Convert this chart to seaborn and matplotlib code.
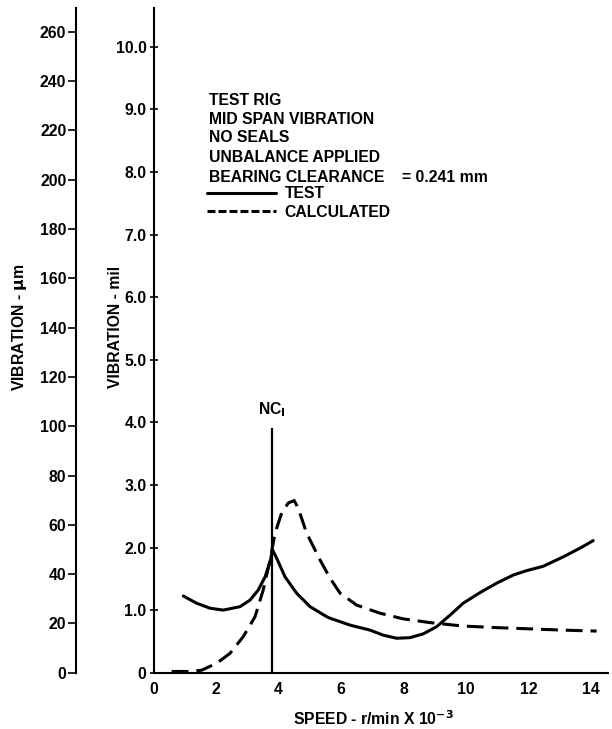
import matplotlib
matplotlib.use("Agg")
import matplotlib.pyplot as plt
from matplotlib.lines import Line2D
import seaborn as sns

# Measured response: test rig, mid span, no seals, unbalance applied
speed_test = [0.955, 1.38, 1.81, 2.23, 2.77, 3.09, 3.35, 3.57, 3.73, 3.81, 3.94,
              4.21, 4.58, 5.01, 5.54, 5.65, 6.29, 6.93, 7.35, 7.78, 8.21, 8.63,
              9.06, 9.49, 9.91, 10.45, 10.98, 11.51, 11.94, 12.47, 13.11, 13.65, 14.07]
vib_test = [1.225, 1.11, 1.03, 1.00, 1.055, 1.16, 1.32, 1.53, 1.77, 1.96, 1.83,
            1.53, 1.27, 1.055, 0.895, 0.87, 0.76, 0.68, 0.60, 0.55, 0.56, 0.62,
            0.735, 0.92, 1.11, 1.28, 1.43, 1.56, 1.63, 1.70, 1.85, 1.99, 2.11]

# Calculated response
speed_calc = [0.58, 1.19, 1.54, 2.02, 2.45, 2.87, 3.25, 3.51, 3.73, 3.89, 4.10,
              4.31, 4.50, 4.63, 4.90, 5.33, 5.65, 5.97, 6.50, 7.25, 7.99, 8.85,
              9.91, 10.98, 12.05, 13.11, 14.18]
vib_calc = [0.02, 0.02, 0.04, 0.15, 0.31, 0.575, 0.895, 1.32, 1.80, 2.23, 2.55,
            2.71, 2.75, 2.63, 2.23, 1.80, 1.51, 1.27, 1.08, 0.95, 0.86, 0.80,
            0.745, 0.72, 0.70, 0.68, 0.665]

# First critical speed marker
nc1_speed = 3.78
nc1_top = 3.91

mil_ticks = [0, 1, 2, 3, 4, 5, 6, 7, 8, 9, 10]
mil_labels = ["0", "1.0", "2.0", "3.0", "4.0", "5.0", "6.0", "7.0", "8.0", "9.0", "10.0"]
um_ticks = list(range(0, 261, 20))
speed_ticks = list(range(0, 15, 2))

notes = ["TEST RIG", "MID SPAN VIBRATION", "NO SEALS", "UNBALANCE APPLIED",
         "BEARING CLEARANCE"]
clearance_text = "= 0.241 mm"
MIL_TO_UM = 25.4

sns.set_style("white")
plt.rcParams["font.family"] = ["Liberation Sans", "DejaVu Sans"]
plt.rcParams["font.weight"] = "bold"
plt.rcParams["mathtext.default"] = "bf"
for key in ["text.color", "axes.labelcolor", "xtick.color", "ytick.color",
            "axes.edgecolor"]:
    plt.rcParams[key] = "black"

W, H = 612, 729
fig = plt.figure(figsize=(W / 100, H / 100), dpi=100)


def fx(px):
    return px / W


def fy(py):
    return 1 - py / H


x_left, x_right = 153.5, 608
y_bottom, y_top = 672.7, 8
ax = fig.add_axes([fx(x_left), fy(y_bottom), fx(x_right - x_left), (y_bottom - y_top) / H])

FS = 11.3
LW = 2.2

sns.lineplot(x=speed_test, y=vib_test, ax=ax, color="black", lw=LW, sort=False)
sns.lineplot(x=speed_calc, y=vib_calc, ax=ax, color="black", lw=LW, sort=False)
ax.lines[-1].set_dashes((5.5, 2.6))
ax.lines[-1].set_dash_capstyle("butt")
for ln in ax.lines:
    ln.set_solid_joinstyle("round")

ax.vlines(nc1_speed, 0, nc1_top, color="black", lw=1.6)
ax.text(nc1_speed, nc1_top + 0.14, "NC$_{\\mathbf{I}}$", ha="center", va="bottom",
        fontsize=FS, fontweight="bold")

ax.set_xlim(0, (x_right - x_left) / 31.25)
ax.set_ylim(0, (y_bottom - y_top) / 62.6)
ax.set_xticks(speed_ticks)
ax.set_yticks(mil_ticks)
ax.set_yticklabels(mil_labels)
for s in ["top", "right"]:
    ax.spines[s].set_visible(False)
for s in ["left", "bottom"]:
    ax.spines[s].set_linewidth(1.5)
ax.tick_params(axis="y", direction="inout", length=6, width=1.2, pad=2,
               labelsize=FS)
ax.tick_params(axis="x", direction="inout", length=7, width=1.2, pad=3,
               labelsize=FS)
for lab in ax.get_xticklabels() + ax.get_yticklabels():
    lab.set_fontweight("bold")
ax.set_xlabel("")
ax.set_ylabel("")

# Second scale in micrometres on an offset left spine
ax2 = ax.twinx()
ax2.set_ylim(0, ax.get_ylim()[1] * MIL_TO_UM)
ax2.yaxis.set_ticks_position("left")
ax2.yaxis.set_label_position("left")
ax2.spines["left"].set_position(("outward", (x_left - 76) / 100 * 72))
ax2.spines["left"].set_linewidth(1.5)
for s in ["top", "right", "bottom"]:
    ax2.spines[s].set_visible(False)
ax2.set_yticks(um_ticks)
ax2.tick_params(axis="y", direction="out", length=6, width=1.2, pad=1,
                labelsize=FS)
for lab in ax2.get_yticklabels():
    lab.set_fontweight("bold")

# Axis titles
fig.text(fx(20), fy(327), "VIBRATION - $\\mathbf{\\mu}$m", rotation=90, ha="center",
         va="center", fontsize=FS, fontweight="bold")
fig.text(fx(115), fy(327), "VIBRATION - mil", rotation=90, ha="center",
         va="center", fontsize=FS, fontweight="bold")
fig.text(fx(373), fy(719), "SPEED - r/min X 10$^{\\mathbf{-3}}$", ha="center",
         va="center", fontsize=FS, fontweight="bold")

# Test conditions block
note_rows = [100.5, 119, 138, 157, 177]
for txt, row in zip(notes, note_rows):
    fig.text(fx(209), fy(row), txt, ha="left", va="center", fontsize=FS,
             fontweight="bold")
fig.text(fx(402), fy(note_rows[-1]), clearance_text, ha="left", va="center",
         fontsize=FS, fontweight="bold")

handles = [Line2D([], [], color="black", lw=LW),
           Line2D([], [], color="black", lw=LW, dashes=(2.6, 1.0), dash_capstyle="butt")]
leg = ax.legend(handles, ["TEST", "CALCULATED"], loc="upper left",
                bbox_to_anchor=(fx(207), fy(186)), bbox_transform=fig.transFigure,
                frameon=False, fontsize=FS, handlelength=4.4, handletextpad=0.55,
                labelspacing=0.25, borderpad=0, borderaxespad=0)
for t in leg.get_texts():
    t.set_fontweight("bold")

fig.savefig("out.png", dpi=100)
